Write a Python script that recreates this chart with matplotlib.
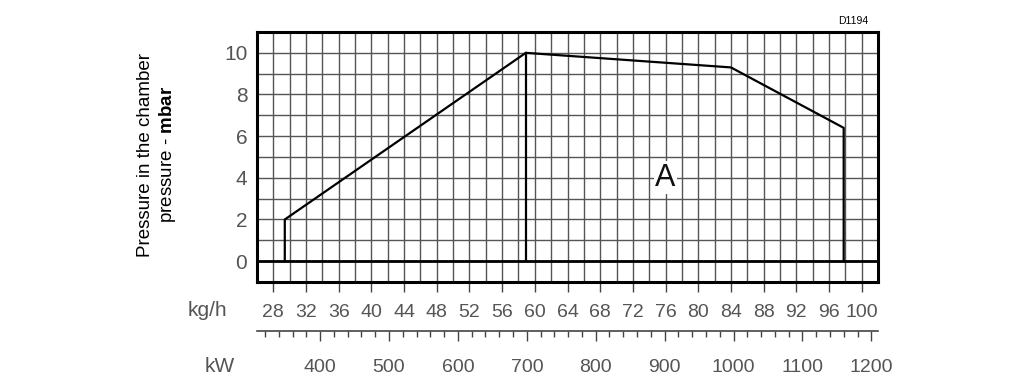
import matplotlib
matplotlib.use("Agg")
import matplotlib.pyplot as plt
from matplotlib.ticker import MultipleLocator

plt.rcParams['font.family'] = ['Liberation Sans', 'DejaVu Sans']
plt.rcParams['mathtext.fontset'] = 'custom'
plt.rcParams['mathtext.rm'] = 'Liberation Sans'
plt.rcParams['mathtext.bf'] = 'Liberation Sans:bold'

# ---- data ----
curve_kgh = [29.4, 29.4, 58.9, 84.0, 97.8, 97.8]
curve_mbar = [0, 2, 10, 9.3, 6.4, 0]
split_kgh = [58.9, 58.9]
split_mbar = [10, 0]
y_ticks = [0, 2, 4, 6, 8, 10]
kgh_ticks = list(range(28, 101, 4))
kw_ticks = [400, 500, 600, 700, 800, 900, 1000, 1100, 1200]
KW_PER_KGH = 11.86
region_label = "A"
region_pos = (76, 4)
drawing_code = "D1194"

W, H = 1024, 388
fig = plt.figure(figsize=(W / 100, H / 100), dpi=100)
ax = fig.add_axes([257 / W, 1 - 282 / H, (878 - 257) / W, (282 - 32) / H])

ax.set_xlim(26, 102)
ax.set_ylim(-1, 11)

# grid
ax.xaxis.set_minor_locator(MultipleLocator(2))
ax.yaxis.set_minor_locator(MultipleLocator(1))
ax.grid(which='both', color='#555555', linewidth=1.0)
ax.set_axisbelow(True)
for s in ax.spines.values():
    s.set_linewidth(2.2)
    s.set_color('black')

ax.axhline(0, color='black', linewidth=2.0, zorder=3)
ax.plot(curve_kgh, curve_mbar, color='black', linewidth=1.6, zorder=4)
ax.plot(split_kgh, split_mbar, color='black', linewidth=1.6, zorder=4)

ax.text(region_pos[0], region_pos[1], region_label, fontsize=22, color='#111111',
        ha='center', va='center', zorder=5,
        bbox=dict(facecolor='white', edgecolor='none', pad=1.0))

# y axis
ax.set_yticks(y_ticks)
ax.set_yticklabels([str(v) for v in y_ticks])
ax.tick_params(axis='y', which='both', length=0, pad=7, labelsize=15, labelcolor='#555555')

# kg/h axis
ax.set_xticks(kgh_ticks)
ax.set_xticklabels([str(v) for v in kgh_ticks])
ax.tick_params(axis='x', which='major', direction='out', length=7, width=1.0,
               color='#444444', pad=9, labelsize=14, labelcolor='#555555')
ax.tick_params(axis='x', which='minor', length=0)

# kW axis
sec = ax.secondary_xaxis(-0.196, functions=(lambda x: x * KW_PER_KGH,
                                             lambda k: k / KW_PER_KGH))
sec.set_xticks(kw_ticks)
sec.set_xticklabels([str(v) for v in kw_ticks])
sec.xaxis.set_minor_locator(MultipleLocator(20))
sec.tick_params(axis='x', which='major', direction='out', length=7, width=1.0,
                color='#444444', pad=13, labelsize=14, labelcolor='#555555')
sec.tick_params(axis='x', which='minor', direction='out', length=4, width=1.0,
                color='#444444')
sec.spines['bottom'].set_color('#444444')
sec.spines['bottom'].set_linewidth(1.2)

fig.text(207 / W, 1 - 311 / H, "kg/h", fontsize=15, color='#555555',
         ha='center', va='center')
fig.text(220 / W, 1 - 366 / H, "kW", fontsize=15, color='#555555',
         ha='center', va='center')
fig.text(868 / W, 1 - 21 / H, drawing_code, fontsize=7.5, color='black',
         ha='right', va='center')

fig.text(146 / W, 1 - 155 / H, "Pressure in the chamber", fontsize=13.5,
         rotation=90, ha='center', va='center', color='black')
fig.text(168 / W, 1 - 154 / H, r"pressure - $\mathbf{mbar}$", fontsize=13.5,
         rotation=90, ha='center', va='center', color='black')

fig.savefig("out.png", dpi=100)
